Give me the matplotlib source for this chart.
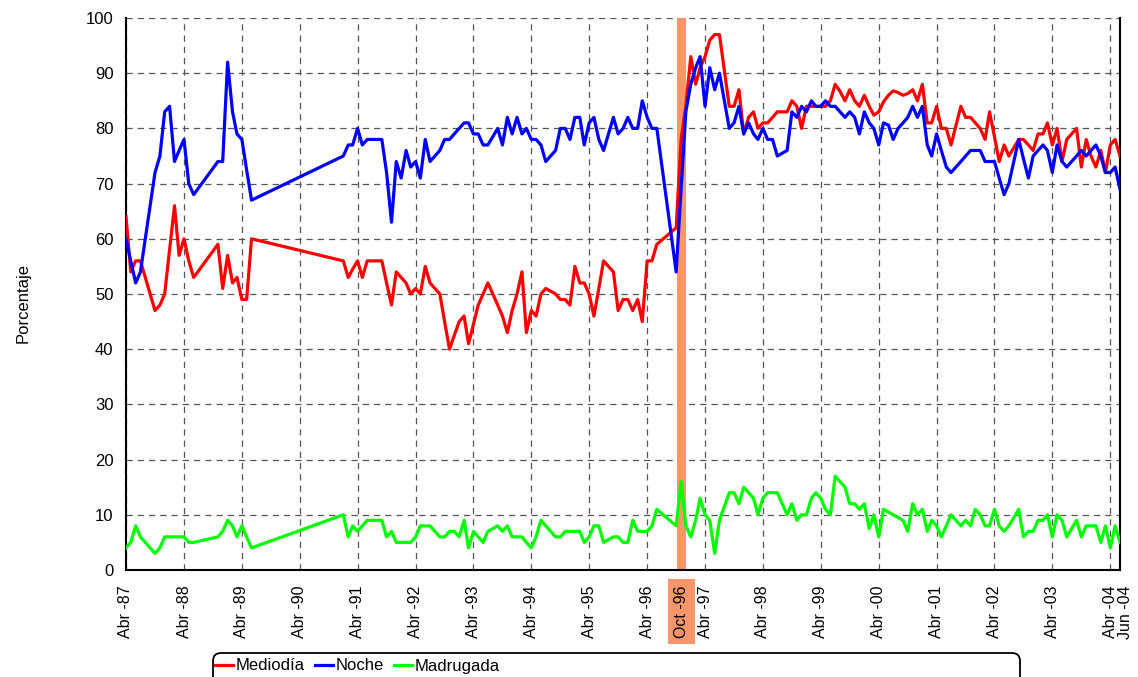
import matplotlib
matplotlib.use("Agg")
import matplotlib.pyplot as plt
from matplotlib.patches import FancyBboxPatch
from matplotlib.transforms import IdentityTransform, ScaledTranslation
import pandas as pd

# survey months (gaps where no survey was published)
survey_months = [
    "1987-04", "1987-05", "1987-06", "1987-07", "1987-10", "1987-11", "1987-12",
    "1988-01", "1988-02", "1988-03", "1988-04", "1988-05", "1988-06", "1988-11", "1988-12",
    "1989-01", "1989-02", "1989-03", "1989-04", "1989-05", "1989-06",
    "1991-01", "1991-02", "1991-03", "1991-04", "1991-05", "1991-06",
    "1991-09", "1991-10", "1991-11", "1991-12",
    "1992-01", "1992-02", "1992-03", "1992-04", "1992-05", "1992-06", "1992-07",
    "1992-09", "1992-10", "1992-11", "1992-12",
    "1993-01", "1993-02", "1993-03", "1993-04", "1993-05", "1993-06", "1993-07",
    "1993-09", "1993-10", "1993-11", "1993-12",
    "1994-01", "1994-02", "1994-03", "1994-04", "1994-05", "1994-06", "1994-07",
    "1994-09", "1994-10", "1994-11", "1994-12",
    "1995-01", "1995-02", "1995-03", "1995-04", "1995-05", "1995-06",
    "1995-07", "1995-08", "1995-09", "1995-10", "1995-11", "1995-12",
    "1996-01", "1996-02", "1996-03", "1996-04", "1996-05", "1996-06",
    "1996-10", "1996-11", "1996-12",
    "1997-01", "1997-02", "1997-03", "1997-04", "1997-05", "1997-06", "1997-07",
    "1997-09", "1997-10", "1997-11", "1997-12",
    "1998-01", "1998-02", "1998-03", "1998-04", "1998-05", "1998-06", "1998-07",
    "1998-09", "1998-10", "1998-11", "1998-12",
    "1999-01", "1999-02", "1999-03", "1999-04", "1999-05", "1999-06",
    "1999-07", "1999-08", "1999-09", "1999-10", "1999-11", "1999-12",
    "2000-01", "2000-02", "2000-03", "2000-04", "2000-05", "2000-06",
    "2000-07", "2000-08", "2000-09", "2000-10", "2000-11", "2000-12",
    "2001-01", "2001-02", "2001-03", "2001-04", "2001-05", "2001-06",
    "2001-07", "2001-08", "2001-09", "2001-10", "2001-11", "2001-12",
    "2002-01", "2002-02", "2002-03", "2002-04", "2002-05", "2002-06",
    "2002-07", "2002-08", "2002-09", "2002-10", "2002-11", "2002-12",
    "2003-01", "2003-02", "2003-03", "2003-04", "2003-05", "2003-06",
    "2003-07", "2003-08", "2003-09", "2003-10", "2003-11", "2003-12",
    "2004-01", "2004-02", "2004-03", "2004-04", "2004-05", "2004-06",
]

mediodia = [
    64, 54, 56, 56, 47, 48, 50,
    58, 66, 57, 60, 56, 53, 59, 51,
    57, 52, 53, 49, 49, 60,
    56, 53, 54.5, 56, 53, 56, 56, 52, 48, 54,
    53, 52, 50, 51, 50, 55, 52, 50, 45, 40, 42.5,
    45, 46, 41, 44.5, 48, 50, 52, 48, 46, 43, 47,
    50, 54, 43, 47, 46, 50, 51, 50, 49, 49, 48,
    55, 52, 52, 50, 46, 51, 56, 55, 54, 47, 49, 49,
    47, 49, 45, 56, 56, 59, 62, 78, 84,
    93, 88, 91, 93, 96, 97, 97, 84, 84, 87, 79,
    82, 83, 80, 81, 81, 82, 83, 83, 85, 84, 80,
    84, 84, 84, 84, 84, 85, 88, 86.7, 85, 87, 85, 84,
    86, 84, 82.4, 83, 84.8, 86, 86.8, 86.5, 86, 86.3, 87, 85,
    88, 81, 81, 84, 80, 80, 77, 80.5, 84, 82, 82, 81,
    80, 78, 83, 78.5, 74, 77, 75, 76.5, 78, 78, 77, 76,
    79, 79, 81, 77, 80, 74, 78, 79, 80, 73, 78, 75,
    73, 76, 72, 77, 78, 75,
]

noche = [
    60, 56, 52, 54, 72, 75, 83,
    84, 74, 76, 78, 70, 68, 74, 74,
    92, 83, 79, 78, 72.5, 67,
    75, 77, 77, 80, 77, 78, 78, 72, 63, 74,
    71, 76, 73, 74, 71, 78, 74, 76, 78, 78, 79,
    80, 81, 81, 79, 79, 77, 77, 80, 77, 82, 79,
    82, 79, 80, 78, 78, 77, 74, 76, 80, 80, 78,
    82, 82, 77, 81, 82, 78, 76, 79, 82, 79, 80, 82,
    80, 80, 85, 82, 80, 80, 54, 69, 83,
    88, 91, 93, 84, 91, 87, 90, 80, 81, 84, 79,
    81, 79, 78, 80, 78, 78, 75, 76, 83, 82, 84,
    83, 85, 84, 84, 85, 84, 84, 83, 82, 83, 82, 79,
    83, 81, 80, 77, 81, 80.6, 78, 80, 81, 82, 84, 82,
    84, 77, 75, 79, 76, 73, 72, 73, 74, 75, 76, 76,
    76, 74, 74, 74, 71, 68, 70, 74, 78, 74.5, 71, 75,
    76, 77, 76, 72, 77, 74, 73, 74, 75, 76, 75, 76,
    77, 75, 72, 72, 73, 69,
]

madrugada = [
    4, 5, 8, 6, 3, 4, 6,
    6, 6, 6, 6, 5, 5, 6, 7,
    9, 8, 6, 8, 6, 4,
    10, 6, 8, 7, 8, 9, 9, 6, 7, 5,
    5, 5, 5, 6, 8, 8, 8, 6, 6, 7, 7,
    6, 9, 4, 7, 6, 5, 7, 8, 7, 8, 6,
    6, 6, 5, 4, 6, 9, 8, 6, 6, 7, 7,
    7, 7, 5, 6, 8, 8, 5, 5.5, 6, 6, 5, 5,
    9, 7, 7, 7, 8, 11, 8, 16, 8,
    6, 9, 13, 10, 9, 3, 9, 14, 14, 12, 15,
    14, 13, 10, 13, 14, 14, 14, 10, 12, 9, 10,
    10, 13, 14, 13, 11, 10, 17, 16, 15, 12, 12, 11,
    12, 7.5, 10, 6, 11, 10.5, 10, 9.5, 9, 7, 12, 10,
    11, 7, 9, 8, 6, 8, 10, 9, 8, 9, 8, 11,
    10, 8, 8, 11, 8, 7, 8, 9.5, 11, 6, 7, 7,
    9, 9, 10, 6, 10, 9, 6, 7.5, 9, 6, 8, 8,
    8, 5, 8, 4, 8, 5,
]

# axis ticks: every April, plus the highlighted survey and the last month
april_years = list(range(1987, 2005))
highlight_month = "1996-11"
highlight_label = "Oct -96"
last_month = "2004-06"
last_label = "Jun -04"

RED = "#FF0000"
BLUE = "#0000FF"
GREEN = "#00FF00"
ORANGE = "#F8956A"

plt.rcParams["font.family"] = ["Liberation Sans", "DejaVu Sans"]

x = pd.to_datetime(survey_months, format="%Y-%m")
hl = pd.Timestamp(highlight_month + "-04")

fig = plt.figure(figsize=(11.38, 6.77), dpi=100)
ax = fig.add_axes([126 / 1138, 1 - 570 / 677, 994 / 1138, 552 / 677])

ax.axvspan(hl - pd.Timedelta(days=28), hl + pd.Timedelta(days=28),
           color=ORANGE, lw=0, zorder=1.5)

ax.plot(x, mediodia, color=RED, lw=2.3, label="Mediodía", zorder=3)
ax.plot(x, noche, color=BLUE, lw=2.3, label="Noche", zorder=3)
ax.plot(x, madrugada, color=GREEN, lw=2.3, label="Madrugada", zorder=3)

ax.set_xlim(pd.Timestamp("1987-04-01"), pd.Timestamp(last_month + "-01"))
ax.set_ylim(0, 100)
ax.set_yticks(range(0, 101, 10))

tick_pos = [pd.Timestamp(f"{y}-04-01") for y in april_years]
tick_txt = [f"Abr -{y % 100:02d}" for y in april_years]
tick_pos += [hl, pd.Timestamp(last_month + "-01")]
tick_txt += [highlight_label, last_label]
ax.set_xticks(tick_pos)
ax.set_xticklabels(tick_txt, rotation=90)

ax.tick_params(axis="x", length=0, pad=11, labelsize=11.5)
ax.tick_params(axis="y", length=0, pad=9, labelsize=12)

for lab in ax.get_xticklabels():
    if lab.get_text() == highlight_label:
        lab.set_bbox(dict(boxstyle="square,pad=0.4", fc=ORANGE, ec="none"))
    elif lab.get_text() == last_label:
        # nudge the last label right so it sits beside "Abr -04"
        lab.set_transform(lab.get_transform()
                          + ScaledTranslation(6 / 100, 0, fig.dpi_scale_trans))

ax.set_axisbelow(True)
ax.grid(True, ls=(0, (5, 4)), color="#555555", lw=0.9)
# no gridline on top of the highlight tick or the last tick
for line, txt in zip(ax.get_xgridlines(), tick_txt):
    if txt in (highlight_label, last_label):
        line.set_visible(False)

ax.spines["top"].set_visible(False)
for side in ("left", "bottom", "right"):
    ax.spines[side].set_linewidth(1.5)
    ax.spines[side].set_color("black")

ax.set_ylabel("Porcentaje", fontsize=12)
ax.yaxis.set_label_coords(-0.096, 0.484)

fig.legend(loc="center left", bbox_to_anchor=(215 / 1138, 1 - 666 / 677),
           ncol=3, frameon=False, fontsize=12, handlelength=1.1,
           handletextpad=0.15, columnspacing=0.6, borderpad=0,
           borderaxespad=0)
box = FancyBboxPatch((213, -12), 807, 36,
                     boxstyle="round,pad=0,rounding_size=8",
                     transform=IdentityTransform(), fill=False,
                     ec="black", lw=1.3)
fig.add_artist(box)

fig.savefig("out.png", dpi=100)
plt.close(fig)
